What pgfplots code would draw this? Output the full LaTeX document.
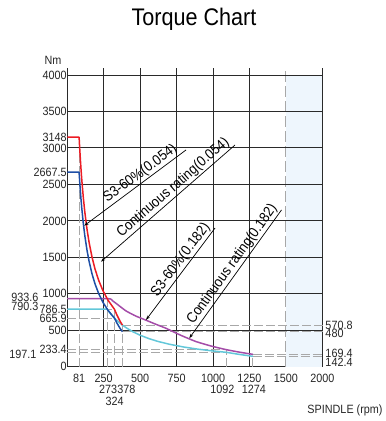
\documentclass[border=0pt]{standalone}
\usepackage{pgfplots}
\pgfplotsset{compat=1.18}
\usepackage{fontspec}
\setmainfont[FakeStretch=0.9]{Liberation Sans}
\usetikzlibrary{arrows.meta}

\definecolor{gridc}{HTML}{2A2A2A}
\definecolor{guide}{HTML}{A8A8A8}
\definecolor{sred}{HTML}{EC1C24}
\definecolor{sblue}{HTML}{1E4FA6}
\definecolor{spurple}{HTML}{A44CA8}
\definecolor{scyan}{HTML}{62C7D9}
\definecolor{zone}{HTML}{EEF6FD}

\tikzset{
  tl/.style={font=\fontsize{12bp}{13bp}\selectfont, text=black!85, inner sep=0pt},
  callout/.style={{Stealth[length=4.5bp,width=3bp]}-, black, line width=0.7bp},
  ctext/.style={sloped, above, inner sep=1.2bp, font=\fontsize{14.5bp}{15bp}\selectfont},
}
\pgfplotsset{
  guideline/.style={guide, line width=1bp, dash pattern=on 9bp off 3bp},
  curve/.style={line width=1.5bp, line join=round},
}

\begin{document}
\begin{tikzpicture}[x=1bp,y=1bp]
\path[use as bounding box] (-67.3,-54.3) rectangle (318.7,366.7);
\begin{axis}[
  at={(0,0)}, anchor=south west,
  scale only axis, width=255bp, height=298.4bp,
  xmin=0, xmax=1750, ymin=0, ymax=4093,
  axis x line*=bottom, axis y line*=left,
  axis line style={gridc, line width=1.1bp},
  clip=false,
  major tick length=0pt,
  xtick={81,250,500,750,1000,1250,1500,1750},
  xticklabels={81,250,500,750,1000,1250,1500,2000},
  ytick={0,233.4,500,665.9,786.5,1000,1500,2000,2500,2667.5,3000,3148,3500,4000},
  yticklabels={0,233.4,500,665.9,786.5,1000,1500,2000,2500,2667.5,3000,3148,3500,4000},
  tick label style={font=\fontsize{12bp}{13bp}\selectfont, text=black!85},
  xticklabel style={yshift=-4bp},
  yticklabel style={xshift=1bp, inner sep=1.5bp},
]
% high-speed zone
\fill[zone] (axis cs:1500,0) rectangle (axis cs:1750,4000);
\draw[guide, line width=1.2bp, dash pattern=on 11bp off 4bp] (axis cs:1500,0) -- (axis cs:1500,4093);

% grid
\pgfplotsinvokeforeach{250,500,750,1000,1250,1750}{
  \draw[gridc, line width=1bp] (axis cs:#1,0) -- (axis cs:#1,4093);
}
\pgfplotsinvokeforeach{500,1000,1500,2000,2500,3000,3500,4000}{
  \draw[gridc, line width=1bp] (axis cs:0,#1) -- (axis cs:1750,#1);
}

% guide lines at the rated points
\addplot[guideline] coordinates {(81,0) (81,3148)};
\addplot[guideline] coordinates {(273,0) (273,933.6)};
\addplot[guideline] coordinates {(324,0) (324,786.5)};
\addplot[guideline] coordinates {(378,0) (378,570.8)};
\addplot[guideline] coordinates {(1092,0) (1092,233.4)};
\addplot[guideline] coordinates {(1274,0) (1274,169.4)};
\addplot[guideline] coordinates {(0,933.6) (273,933.6)};
\addplot[guideline] coordinates {(0,790.3) (273,790.3)};
\addplot[guideline] coordinates {(0,786.5) (324,786.5)};
\addplot[guideline] coordinates {(0,665.9) (324,665.9)};
\addplot[guideline] coordinates {(378,570.8) (1765,570.8)};
\addplot[guideline] coordinates {(378,480) (1765,480)};
\addplot[guideline] coordinates {(0,233.4) (1092,233.4)};
\addplot[guideline] coordinates {(0,197.1) (1092,197.1)};
\addplot[guideline] coordinates {(1274,169.4) (1765,169.4)};
\addplot[guideline] coordinates {(1274,142.4) (1765,142.4)};

% S3-60% (0.182)
\addplot[spurple, curve, smooth, tension=0.35] coordinates {
 (0,933.6) (280,933.6) (310,905) (350,845) (403,765) (470,695) (540,638)
 (610,580) (677,527) (780,430) (883,345) (990,282) (1092,233.4) (1180,200) (1274,169.4)};
% continuous (0.182)
\addplot[scyan, curve] coordinates {
 (0,790.3) (273,790.3) (300,719.2) (330,653.8) (360,599.3) (400,539.4)
 (450,479.4) (500,431.5) (560,385.3) (620,348.0) (700,308.2) (800,269.7)
 (900,239.7) (1000,215.8) (1092,197.1) (1180,168.8) (1274,142.4)};
% continuous (0.054)
\addplot[sblue, curve] coordinates {
 (0,2667.5) (81,2667.5) (85,2542) (90,2400.8) (95,2274.4) (100,2160.7)
 (110,1964.3) (120,1800.6) (135,1600.5) (150,1440.5) (170,1271.0)
 (190,1137.2) (215,1005.0) (245,881.9) (280,771.7) (324,665.9)
 (340,601.1) (360,532.5) (378,480)};
% S3-60% (0.054)
\addplot[sred, curve] coordinates {
 (0,3148) (81,3148) (85,2999.9) (90,2833.2) (95,2684.1) (100,2549.9)
 (110,2318.1) (120,2124.9) (135,1888.8) (150,1699.9) (170,1499.9)
 (190,1342.0) (215,1186.0) (245,1040.8) (280,910.7) (324,786.5)
 (340,711.5) (360,631.8) (378,570.8)};

% callouts
\draw[callout] (axis cs:116,1934) -- node[ctext, pos=0.6] {S3-60\%(0.054)} (axis cs:815,2973);
\draw[callout] (axis cs:231,1440) -- node[ctext, pos=0.58] {Continuous rating(0.054)} (axis cs:1151,3041);
\draw[callout] (axis cs:540,641) -- node[ctext, pos=0.6] {S3-60\%(0.182)} (axis cs:1014,1903);
\draw[callout] (axis cs:837,390) -- node[ctext, pos=0.54] {Continuous rating(0.182)} (axis cs:1470,2150);

% second-row tick labels
\node[tl, anchor=east] at ([xshift=-28.6bp]axis cs:0,950) {933.6};
\node[tl, anchor=east] at ([xshift=-28.6bp]axis cs:0,830) {790.3};
\node[tl, anchor=east] at ([xshift=-30.6bp]axis cs:0,165) {197.1};
\node[tl, anchor=west] at ([xshift=3bp]axis cs:1750,570.8) {570.8};
\node[tl, anchor=west] at ([xshift=3bp]axis cs:1750,455) {480};
\node[tl, anchor=west] at ([xshift=3bp]axis cs:1750,180) {169.4};
\node[tl, anchor=west] at ([xshift=3bp]axis cs:1750,55) {142.4};
\node[tl, anchor=north] at ([xshift=1bp,yshift=-18.3bp]axis cs:273,0) {273};
\node[tl, anchor=north] at ([xshift=4bp,yshift=-18.3bp]axis cs:378,0) {378};
\node[tl, anchor=north] at ([yshift=-30bp]axis cs:324,0) {324};
\node[tl, anchor=north] at ([xshift=-4bp,yshift=-18.3bp]axis cs:1092,0) {1092};
\node[tl, anchor=north] at ([xshift=1bp,yshift=-18.3bp]axis cs:1274,0) {1274};
\end{axis}
\node[font=\fontsize{24bp}{26bp}\selectfont] at (126.7,347.7) {Torque Chart};
\node[tl] at (-14.3,306.7) {Nm};
\node[tl] at (277.7,-43.3) {SPINDLE (rpm)};
\end{tikzpicture}
\end{document}
